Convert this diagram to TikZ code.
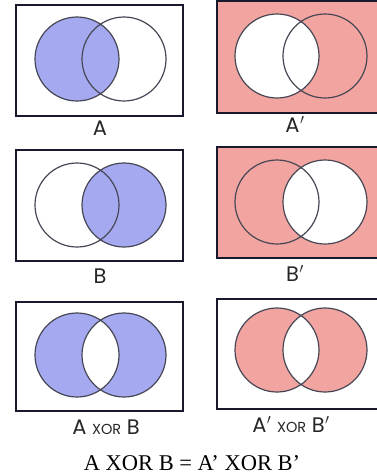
\documentclass[tikz,border=0pt]{standalone}
\usepackage{fontspec}
\setmainfont{Liberation Serif}
\newfontfamily\labfont{Poppins}
\definecolor{vblue}{RGB}{165,170,240}
\definecolor{vpink}{RGB}{242,165,160}
\definecolor{framecol}{RGB}{25,25,45}
\definecolor{ringcol}{RGB}{70,70,85}
\tikzset{
  panel/.style={draw=framecol, line width=2.4pt, inner sep=0pt, outer sep=0pt},
  ring/.style={draw=ringcol, line width=1.2pt},
  lab/.style={font=\labfont\fontsize{21}{21}\selectfont, text=black!85, inner sep=0pt, anchor=base}
}
\newcommand{\xorsc}{{\fontsize{14.5}{14.5}\selectfont XOR}}
\newcommand{\prm}{\kern0.5pt$'$}
\begin{document}
\begin{tikzpicture}[x=1pt,y=-1pt]
\useasboundingbox (0,0) rectangle (377,475);
\begin{scope}
\clip (0,0) rectangle (377,475);
% ---------- Row 1 ----------
% A
\node[panel, fill=white, minimum width=167pt, minimum height=111pt] (p1) at (99.5,60.5) {};
\coordinate (a1l) at (77,59); \coordinate (a1r) at (124,59);
\fill[vblue] (a1l) circle (42);
\draw[ring] (a1l) circle (42) (a1r) circle (42);
\node[lab] (l1) at (100,135) {A};
% A'
\node[panel, fill=vpink, minimum width=163pt, minimum height=112pt] (p2) at (298.5,57) {};
\coordinate (a2l) at (277,56); \coordinate (a2r) at (325,56);
\fill[white] (a2l) circle (42);
\draw[ring] (a2l) circle (42) (a2r) circle (42);
\node[lab] (l2) at (295,132) {A\prm};
% ---------- Row 2 ----------
% B
\node[panel, fill=white, minimum width=167pt, minimum height=111pt] (p3) at (99.5,205.5) {};
\coordinate (b1l) at (77,205); \coordinate (b1r) at (124,205);
\fill[vblue] (b1r) circle (42);
\draw[ring] (b1l) circle (42) (b1r) circle (42);
\node[lab] (l3) at (100,283) {B};
% B'
\node[panel, fill=vpink, minimum width=163pt, minimum height=111pt] (p4) at (298.5,202.5) {};
\coordinate (b2l) at (277,202); \coordinate (b2r) at (325,202);
\fill[white] (b2r) circle (42);
\draw[ring] (b2l) circle (42) (b2r) circle (42);
\node[lab] (l4) at (295,281) {B\prm};
% ---------- Row 3 ----------
% A xor B
\node[panel, fill=white, minimum width=167pt, minimum height=109pt] (p5) at (99.5,356.5) {};
\coordinate (c1l) at (77,355); \coordinate (c1r) at (124,355);
\fill[vblue] (c1l) circle (42) (c1r) circle (42);
\begin{scope}
\clip (c1l) circle (42);
\fill[white] (c1r) circle (42);
\end{scope}
\draw[ring] (c1l) circle (42) (c1r) circle (42);
\node[lab] (l5) at (106,434) {A \xorsc{} B};
% A' xor B'
\node[panel, fill=white, minimum width=163pt, minimum height=110pt] (p6) at (298.5,354) {};
\coordinate (c2l) at (277,350); \coordinate (c2r) at (325,350);
\fill[vpink] (c2l) circle (42) (c2r) circle (42);
\begin{scope}
\clip (c2l) circle (42);
\fill[white] (c2r) circle (42);
\end{scope}
\draw[ring] (c2l) circle (42) (c2r) circle (42);
\node[lab] (l6) at (291,432) {A\prm{} \xorsc{} B\prm};
\end{scope}
% Caption
\node[font=\fontsize{22.5}{22.5}\selectfont, inner sep=0pt, anchor=base] (cap) at (192,470) {A XOR B = A’ XOR B’};
\end{tikzpicture}
\end{document}
